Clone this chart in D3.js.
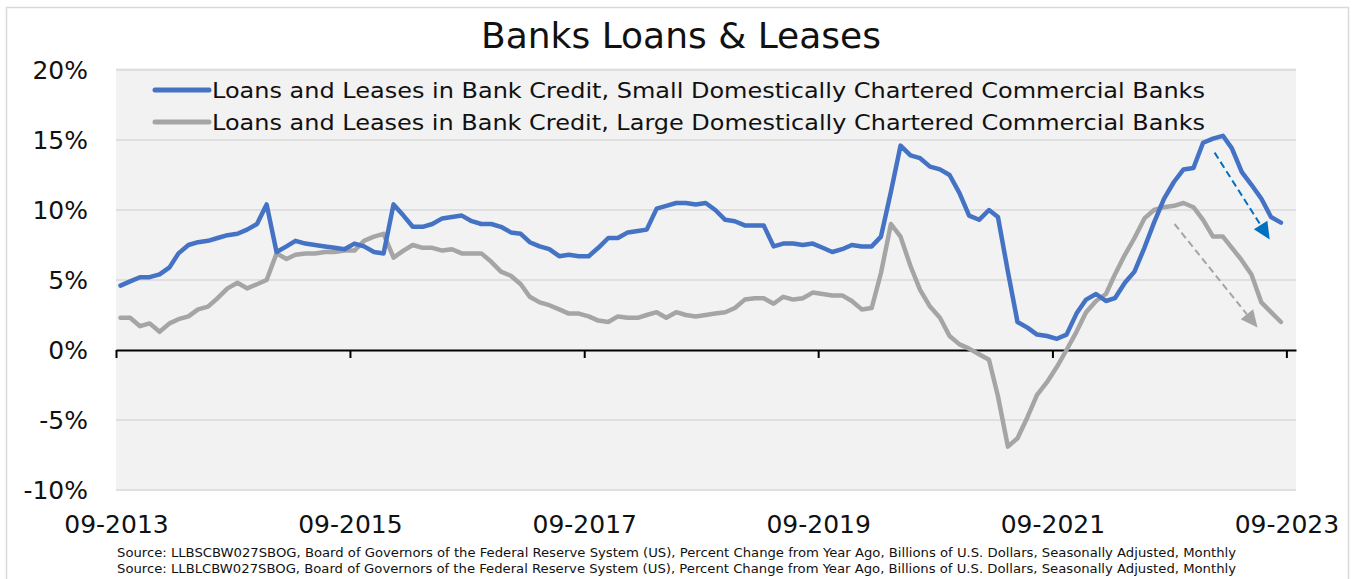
<!DOCTYPE html>
<html>
<head>
<meta charset="utf-8">
<script src="https://cdn.jsdelivr.net/npm/d3@7"></script>
<style>
  html, body { margin: 0; padding: 0; background: #fff; }
  #chart { width: 1359px; height: 579px; }
  text { font-family: 'DejaVu Sans', sans-serif; fill: #111; }
</style>
</head>
<body>
<div id="chart"></div>
<script>

// monthly series, first value = 09-2013, % change from year ago
var startMonth = '09-2013';

var smallBanks = [
  4.6, 4.9, 5.2, 5.2, 5.4, 5.9, 6.9, 7.5, 7.7, 7.8, 8.0, 8.2,
  8.3, 8.6, 9.0, 10.4, 7.0, 7.4, 7.8, 7.6, 7.5, 7.4, 7.3, 7.2,
  7.6, 7.4, 7.0, 6.9, 10.4, 9.6, 8.8, 8.8, 9.0, 9.4, 9.5, 9.6,
  9.2, 9.0, 9.0, 8.8, 8.4, 8.3, 7.7, 7.4, 7.2, 6.7, 6.8, 6.7,
  6.7, 7.3, 8.0, 8.0, 8.4, 8.5, 8.6, 10.1, 10.3, 10.5, 10.5, 10.4,
  10.5, 10.0, 9.3, 9.2, 8.9, 8.9, 8.9, 7.4, 7.6, 7.6, 7.5, 7.6,
  7.3, 7.0, 7.2, 7.5, 7.4, 7.4, 8.1, 11.3, 14.6, 13.9, 13.7, 13.1,
  12.9, 12.5, 11.2, 9.6, 9.3, 10.0, 9.5, 5.6, 2.0, 1.6, 1.1, 1.0,
  0.8, 1.1, 2.6, 3.6, 4.0, 3.5, 3.7, 4.8, 5.6, 7.3, 9.1, 10.8,
  12.0, 12.9, 13.0, 14.8, 15.1, 15.3, 14.4, 12.7, 11.8, 10.8, 9.5, 9.1
];

var largeBanks = [
  2.3, 2.3, 1.7, 1.9, 1.3, 1.9, 2.2, 2.4, 2.9, 3.1, 3.7, 4.4,
  4.8, 4.4, 4.7, 5.0, 6.9, 6.5, 6.8, 6.9, 6.9, 7.0, 7.0, 7.1,
  7.1, 7.8, 8.1, 8.3, 6.6, 7.1, 7.5, 7.3, 7.3, 7.1, 7.2, 6.9,
  6.9, 6.9, 6.3, 5.6, 5.3, 4.7, 3.8, 3.4, 3.2, 2.9, 2.6, 2.6,
  2.4, 2.1, 2.0, 2.4, 2.3, 2.3, 2.5, 2.7, 2.3, 2.7, 2.5, 2.4,
  2.5, 2.6, 2.7, 3.0, 3.6, 3.7, 3.7, 3.3, 3.8, 3.6, 3.7, 4.1,
  4.0, 3.9, 3.9, 3.5, 2.9, 3.0, 5.5, 9.0, 8.1, 6.0, 4.3, 3.1,
  2.3, 1.0, 0.4, 0.1, -0.3, -0.7, -3.3, -6.9, -6.3, -4.8, -3.2, -2.3,
  -1.2, 0.0, 1.3, 2.7, 3.5, 4.0, 5.4, 6.8, 8.0, 9.4, 10.0, 10.2,
  10.3, 10.5, 10.2, 9.3, 8.1, 8.1, 7.3, 6.4, 5.4, 3.4, 2.7, 2.0
];

var seriesNames = [
  'Loans and Leases in Bank Credit, Small Domestically Chartered Commercial Banks',
  'Loans and Leases in Bank Credit, Large Domestically Chartered Commercial Banks'
];

var seriesColors = ['#4472c4', '#a5a5a5'];

var yTicks = [-10, -5, 0, 5, 10, 15, 20];
var xTickLabels = ['09-2013', '09-2015', '09-2017', '09-2019', '09-2021', '09-2023'];

// dashed trend arrows: [month, value] start and end
var trendArrows = [
  { color: '#0070c0', from: ['2023-01-20', 14.1], to: ['2023-07-11', 7.9] },
  { color: '#a5a5a5', from: ['2022-09-17', 9.0], to: ['2023-06-03', 1.6] }
];

var title = 'Banks Loans & Leases';

var sources = [
  'Source: LLBSCBW027SBOG, Board of Governors of the Federal Reserve System (US), Percent Change from Year Ago, Billions of U.S. Dollars, Seasonally Adjusted, Monthly',
  'Source: LLBLCBW027SBOG, Board of Governors of the Federal Reserve System (US), Percent Change from Year Ago, Billions of U.S. Dollars, Seasonally Adjusted, Monthly'
];

var BankLoansChart = function () {

  var id;

  function init(options) {
    id = options.id;
    draw();
  }

  function draw() {

    var width = 1359, height = 579;
    var plot = { left: 116, right: 1296, top: 70, bottom: 490 };

    var parseMonth = d3.timeParse('%m-%Y');
    var parseDay = d3.timeParse('%Y-%m-%d');
    var start = parseMonth(startMonth);

    // plot each monthly value in the middle of its month
    var months = smallBanks.map(function (d, i) {
      return d3.timeDay.offset(d3.timeMonth.offset(start, i), 14);
    });

    var data = [smallBanks, largeBanks].map(function (values, k) {
      return {
        name: seriesNames[k],
        color: seriesColors[k],
        values: values.map(function (v, i) { return { date: months[i], value: v }; })
      };
    });

    var svg = d3.select('#' + id)
      .append('svg')
        .attr('width', width)
        .attr('height', height);

    svg.append('rect')
        .attr('width', width)
        .attr('height', height)
        .attr('fill', '#fff');

    // outer frame
    svg.append('rect')
        .attr('x', 6.5)
        .attr('y', 7.5)
        .attr('width', 1342)
        .attr('height', 600)
        .attr('fill', 'none')
        .attr('stroke', '#d9d9d9')
        .attr('stroke-width', 1.5);

    var x = d3.scaleTime()
      .domain([parseMonth('09-2013'), parseMonth('10-2023')])
      .range([plot.left, plot.right]);

    var y = d3.scaleLinear()
      .domain([-10, 20])
      .range([plot.bottom, plot.top]);

    svg.append('rect')
        .attr('x', plot.left)
        .attr('y', plot.top - 2)
        .attr('width', plot.right - plot.left)
        .attr('height', plot.bottom - plot.top + 3)
        .attr('fill', '#f2f2f2');

    svg.append('g')
      .selectAll('line')
        .data(yTicks.filter(function (d) { return d !== 0; }))
        .enter()
      .append('line')
        .attr('x1', plot.left)
        .attr('x2', plot.right)
        .attr('y1', function (d) { return y(d); })
        .attr('y2', function (d) { return y(d); })
        .attr('stroke', '#d9d9d9')
        .attr('stroke-width', 1.5);

    // y labels
    var yAxis = svg.append('g')
        .attr('transform', 'translate(' + plot.left + ',0)')
        .call(d3.axisLeft(y)
          .tickValues(yTicks)
          .tickSize(0)
          .tickPadding(28)
          .tickFormat(function (d) { return d + '%'; }));
    yAxis.select('.domain').remove();
    yAxis.selectAll('text')
        .attr('font-size', 25)
        .attr('dy', '0.35em');

    // zero line with ticks
    var zeroAxis = svg.append('g')
        .attr('transform', 'translate(0,' + y(0) + ')')
        .call(d3.axisBottom(x)
          .tickValues(xTickLabels.map(parseMonth))
          .tickSize(8)
          .tickSizeOuter(0)
          .tickFormat(''));
    zeroAxis.select('.domain')
        .attr('stroke', '#000')
        .attr('stroke-width', 2);
    zeroAxis.selectAll('.tick line')
        .attr('stroke', '#000')
        .attr('stroke-width', 2);

    // x labels under the plot
    var xAxis = svg.append('g')
        .attr('transform', 'translate(0,' + plot.bottom + ')')
        .call(d3.axisBottom(x)
          .tickValues(xTickLabels.map(parseMonth))
          .tickSize(0)
          .tickPadding(25)
          .tickFormat(d3.timeFormat('%m-%Y')));
    xAxis.select('.domain').remove();
    xAxis.selectAll('text')
        .attr('font-size', 25);

    var line = d3.line()
        .x(function (d) { return x(d.date); })
        .y(function (d) { return y(d.value); });

    // large banks drawn first, small banks on top
    svg.append('g')
      .selectAll('path')
        .data(data.slice().reverse())
        .enter()
      .append('path')
        .attr('d', function (d) { return line(d.values); })
        .attr('fill', 'none')
        .attr('stroke', function (d) { return d.color; })
        .attr('stroke-width', 4.5)
        .attr('stroke-linejoin', 'round')
        .attr('stroke-linecap', 'round');

    // trend arrows
    var arrows = svg.append('g');
    trendArrows.forEach(function (a) {
      var x1 = x(parseDay(a.from[0])), y1 = y(a.from[1]);
      var x2 = x(parseDay(a.to[0])), y2 = y(a.to[1]);
      var ang = Math.atan2(y2 - y1, x2 - x1);
      var head = 17, half = 8;
      var bx = x2 - head * Math.cos(ang), by = y2 - head * Math.sin(ang);

      arrows.append('line')
          .attr('x1', x1)
          .attr('y1', y1)
          .attr('x2', bx)
          .attr('y2', by)
          .attr('stroke', a.color)
          .attr('stroke-width', 2)
          .attr('stroke-dasharray', '7,4');

      arrows.append('path')
          .attr('d', 'M' + x2 + ',' + y2 +
            'L' + (bx + half * Math.sin(ang)) + ',' + (by - half * Math.cos(ang)) +
            'L' + (bx - half * Math.sin(ang)) + ',' + (by + half * Math.cos(ang)) + 'Z')
          .attr('fill', a.color);
    });

    // legend
    var legend = svg.append('g')
      .selectAll('g')
        .data(data)
        .enter()
      .append('g')
        .attr('transform', function (d, i) { return 'translate(155,' + (90 + i * 32) + ')'; });

    legend.append('line')
        .attr('x1', 0)
        .attr('x2', 54)
        .attr('stroke', function (d) { return d.color; })
        .attr('stroke-width', 5)
        .attr('stroke-linecap', 'round');

    legend.append('text')
        .attr('x', 57)
        .attr('y', 8)
        .attr('font-size', 22)
        .attr('textLength', 993)
        .attr('lengthAdjust', 'spacingAndGlyphs')
        .text(function (d) { return d.name; });

    svg.append('text')
        .attr('x', 681)
        .attr('y', 48)
        .attr('text-anchor', 'middle')
        .attr('font-size', 36)
        .text(title);

    svg.append('g')
      .selectAll('text')
        .data(sources)
        .enter()
      .append('text')
        .attr('x', 117)
        .attr('y', function (d, i) { return 557 + i * 16; })
        .attr('font-size', 13)
        .attr('textLength', 1119)
        .attr('lengthAdjust', 'spacingAndGlyphs')
        .style('font-family', "'Liberation Sans Narrow', 'DejaVu Sans Condensed', sans-serif")
        .text(function (d) { return d; });
  }

  return {
    init: init,
    draw: draw
  };
};

BankLoansChart().init({ id: 'chart' });
</script>
</body>
</html>
